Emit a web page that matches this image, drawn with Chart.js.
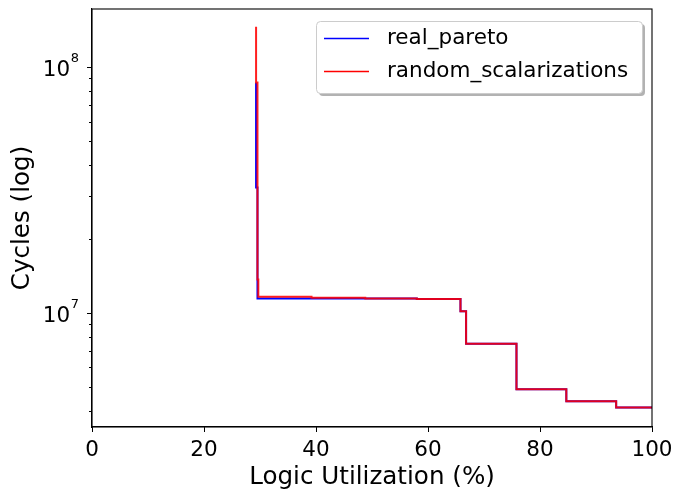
<!DOCTYPE html>
<html>
<head>
<meta charset="utf-8">
<script src="https://cdn.jsdelivr.net/npm/chart.js@4.4.1/dist/chart.umd.min.js"></script>
<style>
  html, body { margin: 0; padding: 0; background: #fff; }
  #wrap { width: 674px; height: 494px; }
</style>
</head>
<body>
<div id="wrap"><canvas id="c" width="674" height="494"></canvas></div>
<script>
// ── data ──────────────────────────────────────────────────────
const realX = [29.3, 29.3, 29.55, 58.0, 65.8, 66.8, 75.8, 84.7, 93.6, 100];
const realY = [8.66e7, 3.24e7, 1.144e7, 1.140e7, 1.015e7, 7.48e6, 4.89e6, 4.37e6, 4.12e6, 4.12e6];

const randX = [29.3, 29.3, 29.55, 29.7, 39.2, 48.8, 58.0, 65.8, 66.8, 75.8, 84.7, 93.6, 100];
const randY = [1.46e8, 8.66e7, 1.367e7, 1.162e7, 1.151e7, 1.144e7, 1.140e7, 1.015e7, 7.48e6, 4.89e6, 4.37e6, 4.12e6, 4.12e6];

const xTicks = [0, 20, 40, 60, 80, 100];
const yMajor = [1e7, 1e8];
const yMinor = [4e6, 5e6, 6e6, 7e6, 8e6, 9e6, 2e7, 3e7, 4e7, 5e7, 6e7, 7e7, 8e7, 9e7];
const yExp = { 1e7: '7', 1e8: '8' };

const FONT = "'DejaVu Sans', sans-serif";

function pts(xs, ys) { return xs.map((x, i) => ({ x, y: ys[i] })); }

// ── frame, y tick marks + 10^n labels, legend ─────────────────
const framePlugin = {
  id: 'frame',
  afterDatasetsDraw(chart) {
    const { ctx, chartArea: { left, right, top, bottom }, scales } = chart;
    ctx.save();
    ctx.strokeStyle = '#000';
    ctx.lineWidth = 1.1;
    ctx.strokeRect(left, top, right - left, bottom - top);
    const y = scales.y;
    ctx.lineWidth = 1;
    ctx.beginPath();
    yMajor.forEach(v => {
      const py = Math.round(y.getPixelForValue(v)) + 0.5;
      ctx.moveTo(left, py); ctx.lineTo(left - 5, py);
    });
    yMinor.forEach(v => {
      const py = Math.round(y.getPixelForValue(v)) + 0.5;
      ctx.moveTo(left, py); ctx.lineTo(left - 3, py);
    });
    ctx.stroke();
    // 10^n labels with a real superscript
    ctx.fillStyle = '#000';
    ctx.textAlign = 'right';
    ctx.textBaseline = 'alphabetic';
    yMajor.forEach(v => {
      const py = y.getPixelForValue(v);
      const xr = left - 13;
      ctx.font = '13px ' + FONT;
      const ew = ctx.measureText(yExp[v]).width;
      ctx.fillText(yExp[v], xr, py - 5);
      ctx.font = '21.5px ' + FONT;
      ctx.fillText('10', xr - ew - 0.5, py + 8.7);
    });
    ctx.restore();
  }
};

const legendPlugin = {
  id: 'boxLegend',
  afterDraw(chart) {
    const { ctx } = chart;
    const bx = 316, by = 21, bw = 326, bh = 72, r = 4;
    ctx.save();
    ctx.fillStyle = 'rgba(0,0,0,0.3)';
    ctx.beginPath(); ctx.roundRect(bx + 3, by + 3, bw, bh, r); ctx.fill();
    ctx.fillStyle = '#fff';
    ctx.strokeStyle = '#cccccc';
    ctx.lineWidth = 1;
    ctx.beginPath(); ctx.roundRect(bx + 0.5, by + 0.5, bw, bh, r); ctx.fill(); ctx.stroke();
    ctx.font = '21.5px ' + FONT;
    ctx.textBaseline = 'middle';
    ctx.textAlign = 'left';
    chart.data.datasets.forEach((ds, i) => {
      const ly = 38.5 + i * 33;
      ctx.strokeStyle = ds.legendColor;
      ctx.lineWidth = 1.5;
      ctx.beginPath(); ctx.moveTo(324, ly); ctx.lineTo(369, ly); ctx.stroke();
      ctx.fillStyle = '#000';
      ctx.fillText(ds.label, 387, ly);
    });
    ctx.restore();
  }
};

new Chart(document.getElementById('c'), {
  type: 'line',
  data: {
    datasets: [
      { label: 'real_pareto', data: pts(realX, realY), borderColor: '#0000ff', legendColor: '#0000ff',
        borderWidth: 2, stepped: true, pointRadius: 0, tension: 0, order: 1 },
      { label: 'random_scalarizations', data: pts(randX, randY), borderColor: 'rgba(255,0,0,0.88)', legendColor: '#ff0000',
        borderWidth: 2, stepped: true, pointRadius: 0, tension: 0, order: 0 }
    ]
  },
  options: {
    responsive: false,
    animation: false,
    layout: { padding: { left: 0, top: 9, right: 22, bottom: 0 } },
    plugins: { legend: { display: false }, tooltip: { enabled: false } },
    scales: {
      x: {
        type: 'linear', min: 0, max: 100,
        afterBuildTicks: s => { s.ticks = xTicks.map(v => ({ value: v })); },
        afterFit: s => { s.height = 67; s.paddingLeft = 0; s.paddingRight = 0; },
        grid: { display: true, drawOnChartArea: false, drawTicks: true, tickLength: 5, color: '#000', lineWidth: 1 },
        border: { display: true, color: '#000', width: 1.1 },
        ticks: { color: '#000', font: { family: FONT, size: 21.5 }, padding: 6, maxRotation: 0 },
        title: { display: true, text: 'Logic Utilization (%)', color: '#000',
                 font: { family: FONT, size: 24.6 }, padding: { top: 0, bottom: 2 } }
      },
      y: {
        type: 'logarithmic', min: 3.43e6, max: 1.726e8,
        afterBuildTicks: s => { s.ticks = yMajor.map(v => ({ value: v, major: true })); },
        afterFit: s => { s.width = 92; s.paddingTop = 0; s.paddingBottom = 0; },
        grid: { display: false, drawTicks: false },
        border: { display: true, color: '#000', width: 1.1 },
        ticks: { display: false },
        title: { display: true, text: 'Cycles (log)', color: '#000',
                 font: { family: FONT, size: 24.6 }, padding: { top: 8, bottom: 0 } }
      }
    }
  },
  plugins: [framePlugin, legendPlugin]
});
</script>
</body>
</html>
